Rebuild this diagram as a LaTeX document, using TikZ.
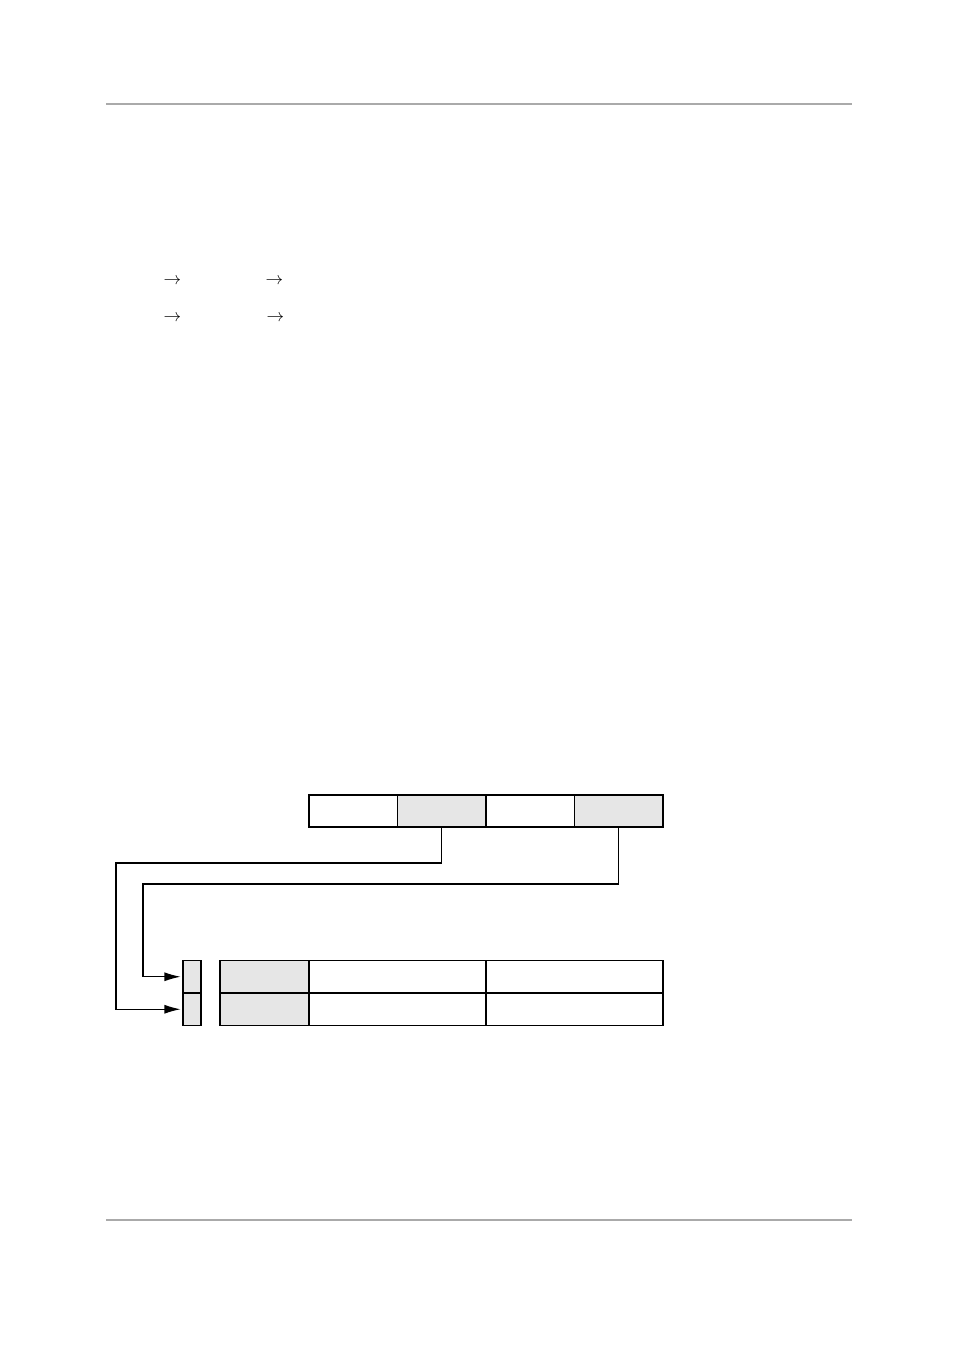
\documentclass[tikz,border=0pt]{standalone}
\usetikzlibrary{arrows.meta}
\usepackage{xcolor}
\usepackage{amsmath}
\definecolor{cellgray}{HTML}{E6E6E6}
\definecolor{rulegray}{HTML}{AAAAAA}

\begin{document}
\begin{tikzpicture}[x=0.6237pt, y=-0.6237pt,
  cell/.style={draw, line width=.7pt, inner sep=0, minimum height={32*0.6237pt}},
  narrow/.style={cell, minimum width={88.5*0.6237pt}},
  wide/.style={cell, minimum width={177*0.6237pt}},
  tag/.style={cell, fill=cellgray, minimum width={18*0.6237pt}, minimum height={32.5*0.6237pt}},
  sym/.style={inner sep=0, font=\fontsize{10.8}{13}\selectfont},
  link/.style={line width=.7pt, -{Latex[length=10pt, width=5.6pt]}, shorten >=1.2pt}]
\useasboundingbox (0,0) rectangle (954,1351);
% page rules
\draw[rulegray, line width=.8pt] (106,104) -- (852,104);
\draw[rulegray, line width=.8pt] (106,1220) -- (852,1220);
% arrows in the text
\node[sym] (ar1) at (172.5,281.5) {$\rightarrow$};
\node[sym] (ar2) at (274.5,281.5) {$\rightarrow$};
\node[sym] (ar3) at (172.5,318.5) {$\rightarrow$};
\node[sym] (ar4) at (275.5,318.5) {$\rightarrow$};
% top row
\node[narrow] (ka) at (353.25,811) {};
\node[narrow, fill=cellgray] (kb) at (441.75,811) {};
\node[narrow] (kc) at (530.25,811) {};
\node[narrow, fill=cellgray] (kd) at (618.75,811) {};
% bottom table
\node[tag] (p1) at (192,976.75) {};
\node[tag] (p2) at (192,1009.25) {};
\foreach \y/\n in {976.75/1, 1009.25/2} {
  \node[cell, fill=cellgray, minimum width={89*0.6237pt}, minimum height={32.5*0.6237pt}] (r\n a) at (264.5,\y) {};
  \node[wide, minimum height={32.5*0.6237pt}] (r\n b) at (397.5,\y) {};
  \node[wide, minimum height={32.5*0.6237pt}] (r\n c) at (574.5,\y) {};
}
% links
\coordinate (bend1) at (116,863);
\coordinate (bend2) at (143,884);
\draw[link] (kb.south) |- (bend1) |- (p2.west);
\draw[link] (kd.south) |- (bend2) |- (p1.west);
\end{tikzpicture}
\end{document}
